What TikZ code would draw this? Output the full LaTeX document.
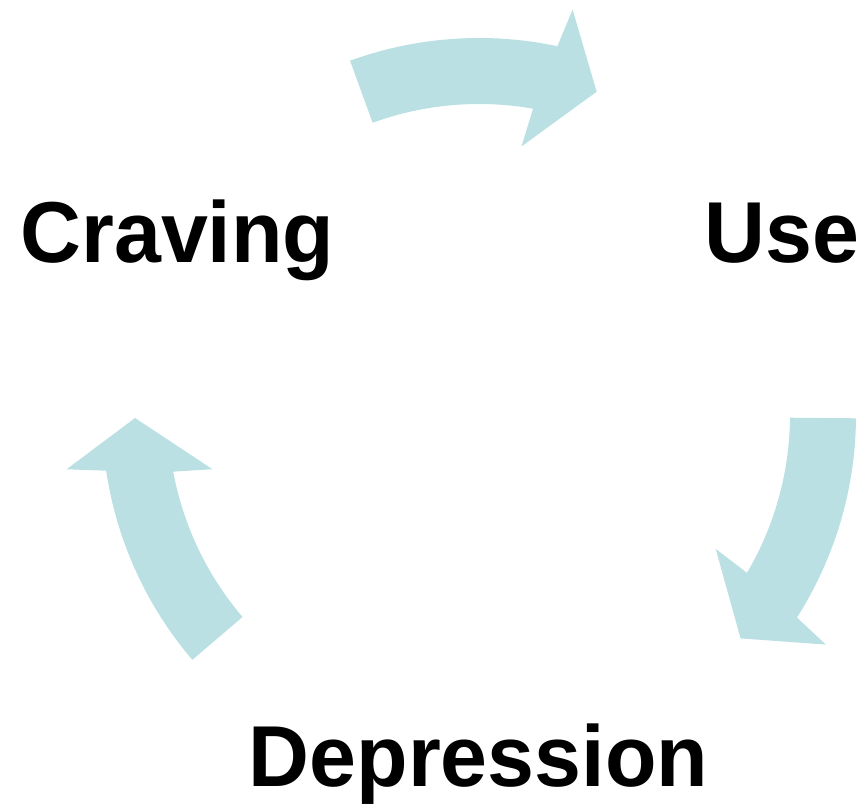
\documentclass[tikz,border=0pt]{standalone}
\usepackage{fontspec}
\setmainfont{Liberation Sans}
\definecolor{arrowcyan}{RGB}{187,224,227}
\tikzset{
  cyclearrowfill/.style={fill=arrowcyan, draw=none},
  steplabel/.style={font=\fontsize{86.5}{90}\selectfont\bfseries, inner sep=0pt, anchor=base, text=black}
}
\newcommand\cyclearrow[1]{%
  \fill[cyclearrowfill]
    ([shift={(ctr)}]#1:377) arc[start angle=#1, end angle=#1-32, radius=377]
    -- ([shift={(ctr)}]#1-33:416)
    -- ([shift={(ctr)}]#1-40:344)
    -- ([shift={(ctr)}]#1-29:272)
    -- ([shift={(ctr)}]#1-30:311)
    arc[start angle=#1-30, end angle=#1, radius=311]
    -- cycle;}
\newcommand\narrowtext[1]{\scalebox{0.975}[1]{#1}}
\begin{document}
\begin{tikzpicture}[x=1pt, y=1pt]
  \useasboundingbox (0,0) rectangle (862,804);
  \coordinate (ctr) at (479,389);
  \cyclearrow{110}
  \cyclearrow{-0.5}
  \cyclearrow{220.5}
  \node[steplabel] (craving) at (177.5,541) {\narrowtext{Craving}};
  \node[steplabel] (use) at (782,541) {\narrowtext{Use}};
  \node[steplabel] (depression) at (478.5,18) {\narrowtext{Depression}};
\end{tikzpicture}
\end{document}
